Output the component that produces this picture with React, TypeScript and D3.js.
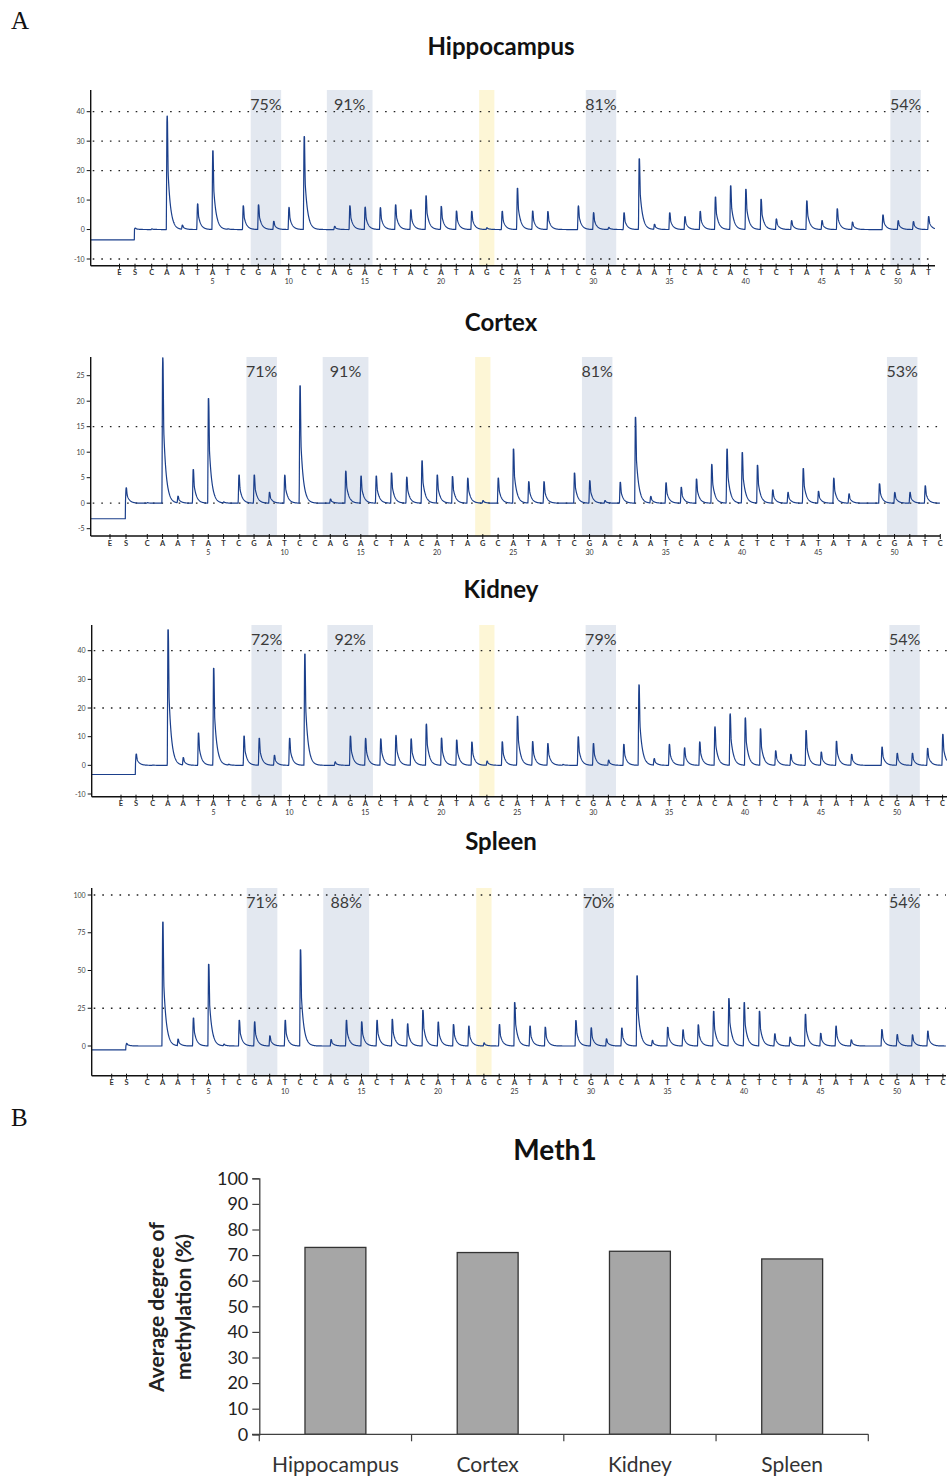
import React, { useEffect, useRef } from "react";
import * as d3 from "d3";

// dispensation order after E and S
const dispensation = "CAATATCGATCCAGACTACATAGCATATCGACAATCACACTCTATATACGATC".split("");

// peak heights per dispensation (1..n)
const hippocampusPeaks = [0.2, 38.5, 1.4, 8.7, 26.7, 0.2, 8, 8.4, 2.8, 7.5, 31.5, 0, 1.1, 8, 7.6, 7.4, 8.4, 6.7, 11.4, 7.8, 6.2, 6.2, 0.6, 6.2, 14, 6.2, 6.1, 0, 8, 5.7, 0.7, 5.7, 24, 1.7, 5.7, 4.4, 6.2, 11, 14.8, 13.6, 10.2, 3.6, 3, 9.7, 3, 7, 2.5, 0, 5, 3, 2.7, 4.4];
const cortexPeaks = [0.1, 28.5, 1.3, 6.6, 20.5, 0.2, 5.5, 5.5, 2.1, 5.5, 23, 0, 0.8, 6.3, 5.3, 5.3, 5.9, 5.1, 8.3, 5.5, 5.2, 4.9, 0.5, 4.9, 10.6, 4.2, 4.2, 0, 5.9, 4.4, 0.5, 4.1, 16.8, 1.3, 4, 3.1, 4.7, 7.6, 10.6, 9.9, 7.4, 2.6, 2.1, 6.8, 2.3, 4.9, 1.8, 0, 3.8, 2.1, 2.1, 3.4, 0];
const kidneyPeaks = [0.1, 47.3, 2.6, 11.2, 33.8, 0.3, 10.2, 9.4, 3.5, 9.4, 38.8, 0, 1.2, 10.2, 9.4, 9.2, 10.4, 9.2, 14.4, 9.5, 8.8, 8.1, 1.5, 8.2, 17.1, 8.2, 7.6, 0.3, 9.9, 7.6, 1.8, 7.3, 28.1, 2.3, 7.3, 6.1, 8.2, 13.4, 17.9, 16.5, 12.7, 5, 3.8, 12.1, 4.6, 8.4, 3.8, 0, 6.4, 4.2, 4.2, 5.9, 10.8];
const spleenPeaks = [0, 82, 4.3, 18.5, 54, 1.1, 17, 15.9, 6.7, 17, 63.7, 0, 4.3, 17, 15.9, 16.9, 17.6, 14.7, 23.6, 15.8, 14.2, 13.1, 2, 14.2, 28.7, 13.1, 12.4, 0, 16.9, 12, 4.7, 11.8, 46.4, 3.6, 12.4, 10.7, 14, 22.9, 31.3, 28.7, 22.9, 8, 5.8, 20.9, 8.4, 13.1, 4, 0, 10.9, 7.6, 7.3, 9.8, 0];

const substratePeak = [0.5, 3, 3.9, 1.7];
const leadBaseline = [-3.5, -3.05, -3.2, -2.6];

const hippocampusPct = [75, 91, 81, 54];
const cortexPct = [71, 91, 81, 53];
const kidneyPct = [72, 92, 79, 54];
const spleenPct = [71, 88, 70, 54];

const cpgRanges = [[8, 9], [13, 15], [30, 31], [50, 51]];
const controlRange = [23, 23];

const hippocampusTicks = [-10, 0, 10, 20, 30, 40];
const cortexTicks = [-5, 0, 5, 10, 15, 20, 25];
const kidneyTicks = [-10, 0, 10, 20, 30, 40];
const spleenTicks = [0, 25, 50, 75, 100];

const hippocampusGrid = [40, 30, 20, -10];
const cortexGrid = [15, 0];
const kidneyGrid = [40, 20];
const spleenGrid = [100, 25];

const tissues = ["Hippocampus", "Cortex", "Kidney", "Spleen"];
const meth1Values = [73, 71, 71.5, 68.5];
const meth1Ticks = [0, 10, 20, 30, 40, 50, 60, 70, 80, 90, 100];

const FONT = "Lato, 'Open Sans', sans-serif";
const TRACE = "#1b3f8b";

// shape of one light-signal peak, d in px from the dispensation
function peakShape(d: number) {
  if (d < -0.6) return 0;
  if (d < 0) return (d + 0.6) / 0.6;
  if (d < 0.5) return 1;
  if (d < 1.2) return 1 - 0.5 * (d - 0.5) / 0.7;
  return 0.5 * Math.exp(-(d - 1.2) / 2.7);
}

function App() {
  const ref = useRef<SVGSVGElement>(null);

  useEffect(() => {
    drawChart();
  }, []);

  function drawChart() {
    const svg = d3.select(ref.current).html("");

    const layouts = [
      { titleY: 55, axisX: 90.7, top: 90, axisY: 265.7, yDom: [-10, 40], yRng: [259, 111.7], x1: 151.7, step: 15.23, xE: 119.5, xS: 135, xEnd: 935 },
      { titleY: 331, axisX: 90.7, top: 357, axisY: 536, yDom: [-5, 25], yRng: [528.7, 375.7], x1: 147.3, step: 15.25, xE: 110, xS: 126, xEnd: 940 },
      { titleY: 598, axisX: 91.7, top: 625, axisY: 796.7, yDom: [-10, 40], yRng: [794, 650.7], x1: 152.7, step: 15.19, xE: 121, xS: 136, xEnd: 947 },
      { titleY: 850, axisX: 91.7, top: 888, axisY: 1075.7, yDom: [0, 100], yRng: [1046, 895], x1: 147.3, step: 15.3, xE: 111.7, xS: 126.5, xEnd: 946 },
    ];
    const peaksList = [hippocampusPeaks, cortexPeaks, kidneyPeaks, spleenPeaks];
    const pctList = [hippocampusPct, cortexPct, kidneyPct, spleenPct];
    const tickList = [hippocampusTicks, cortexTicks, kidneyTicks, spleenTicks];
    const gridList = [hippocampusGrid, cortexGrid, kidneyGrid, spleenGrid];

    // panel letters
    svg.append("text").attr("x", 11).attr("y", 29).attr("font-family", "'Liberation Serif', 'DejaVu Serif', serif")
      .attr("font-size", 25).attr("fill", "#111").text("A");
    svg.append("text").attr("x", 11).attr("y", 1126).attr("font-family", "'Liberation Serif', 'DejaVu Serif', serif")
      .attr("font-size", 25).attr("fill", "#111").text("B");

    layouts.forEach(function (L, p) {
      const peaks = peaksList[p];
      const n = peaks.length;
      const g = svg.append("g");
      const y = d3.scaleLinear().domain(L.yDom).range(L.yRng);
      const x = d3.scaleLinear().domain([1, n]).range([L.x1, L.x1 + (n - 1) * L.step]);

      g.append("text")
        .attr("x", 501).attr("y", L.titleY)
        .attr("text-anchor", "middle")
        .attr("font-family", FONT).attr("font-weight", 700).attr("font-size", 24)
        .attr("fill", "#111")
        .text(tissues[p]);

      // shaded CpG bands
      cpgRanges.forEach(function (r) {
        g.append("rect")
          .attr("x", x(r[0]) - L.step / 2)
          .attr("y", L.top)
          .attr("width", x(r[1]) - x(r[0]) + L.step)
          .attr("height", L.axisY - L.top)
          .attr("fill", "#e3e8f0");
      });
      g.append("rect")
        .attr("x", x(controlRange[0]) - L.step / 2)
        .attr("y", L.top)
        .attr("width", x(controlRange[1]) - x(controlRange[0]) + L.step)
        .attr("height", L.axisY - L.top)
        .attr("fill", "#fdf6d6");

      // dotted grid
      gridList[p].forEach(function (v) {
        g.append("line")
          .attr("x1", L.axisX + 2).attr("x2", L.xEnd)
          .attr("y1", y(v)).attr("y2", y(v))
          .attr("stroke", "#222").attr("stroke-width", 1.3)
          .attr("stroke-dasharray", "1.6 7");
      });

      // percentages
      cpgRanges.forEach(function (r, k) {
        const cx = (x(r[0]) + x(r[1])) / 2;
        g.append("text")
          .attr("x", cx).attr("y", L.top + 20)
          .attr("text-anchor", "middle")
          .attr("font-family", FONT).attr("font-size", 16)
          .attr("fill", "#3a3a3a")
          .text(pctList[p][k] + "%");
      });

      // pyrogram trace
      const pts: [number, number][] = [];
      for (let px = L.axisX; px <= L.xEnd; px += 0.2) {
        let v = px < L.xS - 0.6 ? leadBaseline[p] : 0;
        v += substratePeak[p] * peakShape(px - L.xS);
        for (let i = 1; i <= n; i++) {
          const d = px - x(i);
          if (d > -1 && d < 22) v += peaks[i - 1] * peakShape(d);
        }
        pts.push([px, v]);
      }
      const line = d3.line<[number, number]>()
        .x(d => d[0])
        .y(d => y(d[1]));
      g.append("path")
        .datum(pts)
        .attr("d", line)
        .attr("fill", "none")
        .attr("stroke", TRACE)
        .attr("stroke-width", 1.2)
        .attr("stroke-linejoin", "round");

      // y axis
      g.append("line")
        .attr("x1", L.axisX).attr("x2", L.axisX)
        .attr("y1", L.top).attr("y2", L.axisY)
        .attr("stroke", "#111").attr("stroke-width", 1.4);
      tickList[p].forEach(function (t) {
        g.append("line")
          .attr("x1", L.axisX - 4).attr("x2", L.axisX)
          .attr("y1", y(t)).attr("y2", y(t))
          .attr("stroke", "#111").attr("stroke-width", 1);
        g.append("text")
          .attr("x", L.axisX - 6).attr("y", y(t) + 2.5)
          .attr("text-anchor", "end")
          .attr("font-family", FONT).attr("font-size", 7)
          .attr("fill", "#444")
          .text(t);
      });

      // x axis
      g.append("line")
        .attr("x1", L.axisX).attr("x2", L.xEnd)
        .attr("y1", L.axisY).attr("y2", L.axisY)
        .attr("stroke", "#111").attr("stroke-width", 1.4);
      const letters = [{ c: "E", px: L.xE }, { c: "S", px: L.xS }]
        .concat(dispensation.slice(0, n).map((c, i) => ({ c: c, px: x(i + 1) })));
      letters.forEach(function (d) {
        g.append("line")
          .attr("x1", d.px).attr("x2", d.px)
          .attr("y1", L.axisY - 2).attr("y2", L.axisY + 3)
          .attr("stroke", "#111").attr("stroke-width", 1);
        g.append("text")
          .attr("x", d.px).attr("y", L.axisY + 9.5)
          .attr("text-anchor", "middle")
          .attr("font-family", FONT).attr("font-weight", 700).attr("font-size", 7.5)
          .attr("fill", "#333")
          .text(d.c);
      });
      for (let i = 5; i <= n; i += 5) {
        g.append("text")
          .attr("x", x(i)).attr("y", L.axisY + 18.5)
          .attr("text-anchor", "middle")
          .attr("font-family", FONT).attr("font-size", 7)
          .attr("fill", "#333")
          .text(i);
      }
    });

    // ---- panel B: bar chart ----
    const b = svg.append("g");
    const yB = d3.scaleLinear().domain([0, 100]).range([1434.3, 1178.3]);
    const xB = d3.scaleBand().domain(tissues).range([259.3, 868.3]).paddingInner(0.6).paddingOuter(0.3);

    b.append("text")
      .attr("x", 555).attr("y", 1160)
      .attr("text-anchor", "middle")
      .attr("font-family", FONT).attr("font-weight", 700).attr("font-size", 28)
      .attr("fill", "#111")
      .text("Meth1");

    b.selectAll("rect.bar")
      .data(tissues)
      .join("rect")
      .attr("class", "bar")
      .attr("x", d => xB(d) as number)
      .attr("y", (d, i) => yB(meth1Values[i]))
      .attr("width", xB.bandwidth())
      .attr("height", (d, i) => yB(0) - yB(meth1Values[i]))
      .attr("fill", "#a6a6a6")
      .attr("stroke", "#333")
      .attr("stroke-width", 1.3);

    const yAxis = d3.axisLeft(yB).tickValues(meth1Ticks).tickSize(7).tickPadding(4);
    const ya = b.append("g").attr("transform", "translate(259.3,0)").call(yAxis);
    ya.select(".domain").attr("stroke", "#404040").attr("stroke-width", 1.3);
    ya.selectAll(".tick line").attr("stroke", "#404040").attr("stroke-width", 1.2);
    ya.selectAll(".tick text")
      .attr("font-family", FONT).attr("font-size", 18).attr("fill", "#222");

    // x axis with category boundary ticks
    b.append("line")
      .attr("x1", 252).attr("x2", 868.3)
      .attr("y1", yB(0)).attr("y2", yB(0))
      .attr("stroke", "#404040").attr("stroke-width", 1.3);
    const bounds = tissues.map((t, i) => 259.3 + i * xB.step()).concat([868.3]);
    bounds.forEach(function (bx) {
      b.append("line")
        .attr("x1", bx).attr("x2", bx)
        .attr("y1", yB(0)).attr("y2", yB(0) + 7)
        .attr("stroke", "#404040").attr("stroke-width", 1.2);
    });
    tissues.forEach(function (t) {
      b.append("text")
        .attr("x", (xB(t) as number) + xB.bandwidth() / 2)
        .attr("y", 1472)
        .attr("text-anchor", "middle")
        .attr("font-family", FONT).attr("font-size", 21)
        .attr("fill", "#333")
        .text(t);
    });

    const yLab = b.append("g").attr("font-family", FONT).attr("font-weight", 700)
      .attr("font-size", 21).attr("fill", "#222").attr("text-anchor", "middle");
    yLab.append("text").attr("transform", "translate(164,1307) rotate(-90)").text("Average degree of");
    yLab.append("text").attr("transform", "translate(191,1307) rotate(-90)").text("methylation (%)");
  }

  return (
    <div style={{ position: "absolute", left: 0, top: 0 }}>
      <svg ref={ref} width={947} height={1479} style={{ display: "block", background: "#fff" }} />
    </div>
  );
}

export default App;
